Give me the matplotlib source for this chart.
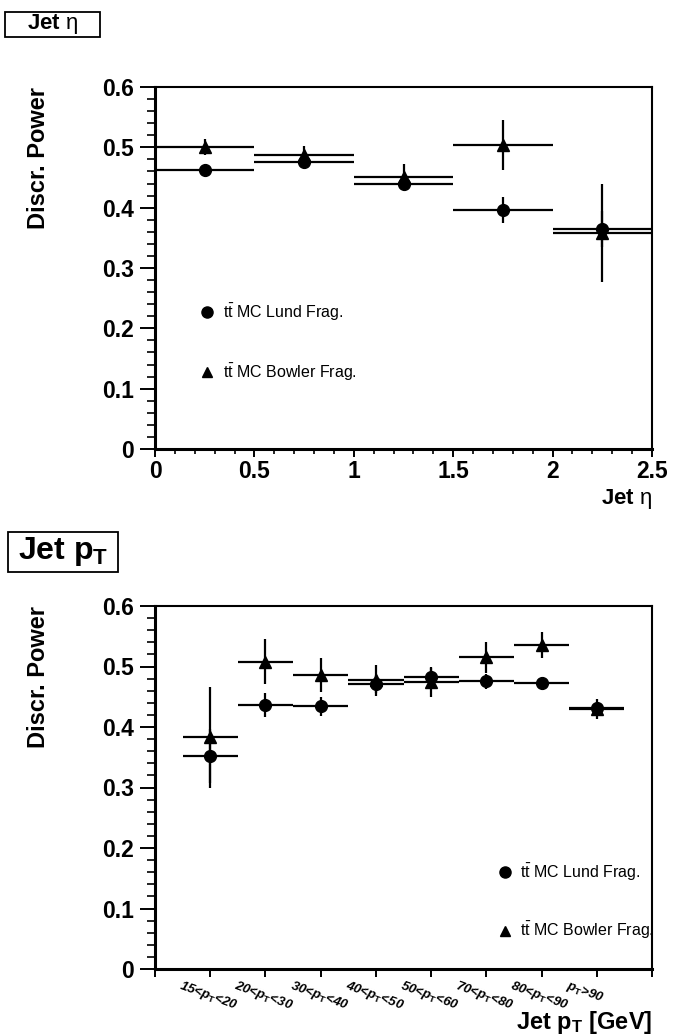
import numpy as np
import matplotlib
matplotlib.use("Agg")
import matplotlib.pyplot as plt
from matplotlib.patches import Rectangle
from matplotlib.ticker import MultipleLocator, FormatStrFormatter
import matplotlib.transforms as mtransforms

plt.rcParams['font.family'] = ['Liberation Sans', 'DejaVu Sans']
plt.rcParams['mathtext.fontset'] = 'custom'
plt.rcParams['mathtext.rm'] = 'Liberation Sans'
plt.rcParams['mathtext.it'] = 'Liberation Sans:italic'
plt.rcParams['mathtext.bf'] = 'Liberation Sans:bold'

# ---- Jet eta panel ----
eta_centers = [0.25, 0.75, 1.25, 1.75, 2.25]
eta_halfwidth = 0.25
eta_lund = [0.4625, 0.476, 0.440, 0.396, 0.364]
eta_lund_err = [0.006, 0.008, 0.011, 0.022, 0.030]
eta_bowler = [0.500, 0.487, 0.451, 0.504, 0.358]
eta_bowler_err = [0.013, 0.016, 0.021, 0.041, 0.082]

# ---- Jet pT panel ----
pt_bins = ["15<p$_{\\mathbf{T}}$<20", "20<p$_{\\mathbf{T}}$<30", "30<p$_{\\mathbf{T}}$<40",
           "40<p$_{\\mathbf{T}}$<50", "50<p$_{\\mathbf{T}}$<60", "70<p$_{\\mathbf{T}}$<80",
           "80<p$_{\\mathbf{T}}$<90", "p$_{\\mathbf{T}}$>90"]
pt_lund = [0.352, 0.436, 0.434, 0.471, 0.483, 0.4755, 0.472, 0.432]
pt_lund_err = [0.045, 0.020, 0.016, 0.015, 0.015, 0.012, 0.010, 0.010]
pt_bowler = [0.383, 0.508, 0.486, 0.477, 0.475, 0.515, 0.5355, 0.430]
pt_bowler_err = [0.083, 0.037, 0.028, 0.026, 0.025, 0.025, 0.022, 0.017]

lund_label = r"t$\bar{\mathrm{t}}$ MC Lund Frag."
bowler_label = r"t$\bar{\mathrm{t}}$ MC Bowler Frag."

W, H = 673, 1036
fig = plt.figure(figsize=(W / 100, H / 100), dpi=100)


def frame(top_px, bottom_px):
    return [155 / W, 1 - bottom_px / H, (652 - 155) / W, (bottom_px - top_px) / H]


def style_axes(ax):
    for s in ['top', 'right']:
        ax.spines[s].set_linewidth(1.5)
    for s in ['left', 'bottom']:
        ax.spines[s].set_linewidth(2.2)
    ax.set_ylim(0, 0.6)
    ax.yaxis.set_major_locator(MultipleLocator(0.1))
    ax.yaxis.set_minor_locator(MultipleLocator(0.02))
    ax.yaxis.set_major_formatter(FormatStrFormatter('%g'))
    ax.tick_params(axis='y', which='major', direction='out', length=11, width=1.4, pad=4,
                   labelsize=16.5)
    ax.tick_params(axis='y', which='minor', direction='out', length=6, width=1.2)
    for t in ax.get_yticklabels():
        t.set_fontweight('bold')
    ax.set_ylabel("Discr. Power", fontsize=17, fontweight='bold', loc='top')
    ax.yaxis.set_label_coords(-0.211, 1.0)


def draw_series(ax, x, xerr, y, yerr, marker, ms):
    ax.errorbar(x, y, xerr=xerr, yerr=yerr, fmt=marker, color='black', ms=ms,
                elinewidth=1.6, capsize=0, zorder=3)


def draw_legend(ax, mx, tx, ys):
    ax.plot([mx], [ys[0]], 'o', color='black', ms=8, transform=ax.transAxes, clip_on=False)
    ax.plot([mx], [ys[1]], '^', color='black', ms=7, transform=ax.transAxes, clip_on=False)
    ax.text(tx, ys[0], lund_label, transform=ax.transAxes, fontsize=11.5, va='center')
    ax.text(tx, ys[1], bowler_label, transform=ax.transAxes, fontsize=11.5, va='center')


def title_box(x0, y0, x1, y1, text, size):
    fig.patches.append(Rectangle((x0 / W, 1 - y1 / H), (x1 - x0) / W, (y1 - y0) / H,
                                 transform=fig.transFigure, fill=False, ec='black', lw=1.3))
    fig.text((x0 + x1) / 2 / W, 1 - (y0 + y1) / 2 / H, text, ha='center', va='center',
             fontsize=size, fontweight='bold')


# top panel
ax1 = fig.add_axes(frame(87, 449))
draw_series(ax1, eta_centers, eta_halfwidth, eta_lund, eta_lund_err, 'o', 8.5)
draw_series(ax1, eta_centers, eta_halfwidth, eta_bowler, eta_bowler_err, '^', 8)
ax1.set_xlim(0, 2.5)
ax1.xaxis.set_major_locator(MultipleLocator(0.5))
ax1.xaxis.set_minor_locator(MultipleLocator(0.1))
ax1.xaxis.set_major_formatter(FormatStrFormatter('%g'))
ax1.tick_params(axis='x', which='major', direction='out', length=6, width=1.4, pad=2,
                labelsize=16.5)
ax1.tick_params(axis='x', which='minor', direction='out', length=3.5, width=1.2)
for t in ax1.get_xticklabels():
    t.set_fontweight('bold')
style_axes(ax1)
ax1.set_xlabel(r"Jet $\mathrm{\eta}$", fontsize=16, fontweight='bold', loc='right')
ax1.xaxis.set_label_coords(1.0, -0.105)
draw_legend(ax1, 0.1046, 0.137, [0.378, 0.2127])
title_box(5, 12, 100, 37, r"Jet $\mathrm{\eta}$", 16)

# bottom panel
ax2 = fig.add_axes(frame(606, 969))
pt_x = np.arange(1, len(pt_bins) + 1)
draw_series(ax2, pt_x, 0.5, pt_lund, pt_lund_err, 'o', 8.5)
draw_series(ax2, pt_x, 0.5, pt_bowler, pt_bowler_err, '^', 8)
ax2.set_xlim(0, len(pt_bins) + 1)
ax2.set_xticks(np.arange(0, len(pt_bins) + 2))
ax2.set_xticklabels([])
ax2.tick_params(axis='x', which='major', direction='out', length=6, width=1.4)
style_axes(ax2)
trans = mtransforms.blended_transform_factory(ax2.transData, ax2.transAxes)
for i, lab in enumerate(pt_bins):
    ax2.text(pt_x[i] - 0.5, -0.025, lab, transform=trans, rotation=-20,
             rotation_mode='anchor', ha='left', va='top', fontsize=9.5,
             fontweight='bold', fontstyle='italic')
ax2.set_xlabel(r"Jet p$_{\mathbf{T}}$ [GeV]", fontsize=17, fontweight='bold', loc='right')
ax2.xaxis.set_label_coords(1.0, -0.11)
draw_legend(ax2, 0.704, 0.734, [0.267, 0.105])
title_box(8, 532, 118, 572, r"Jet p$_{\mathbf{T}}$", 23)

fig.savefig("out.png", dpi=100)
